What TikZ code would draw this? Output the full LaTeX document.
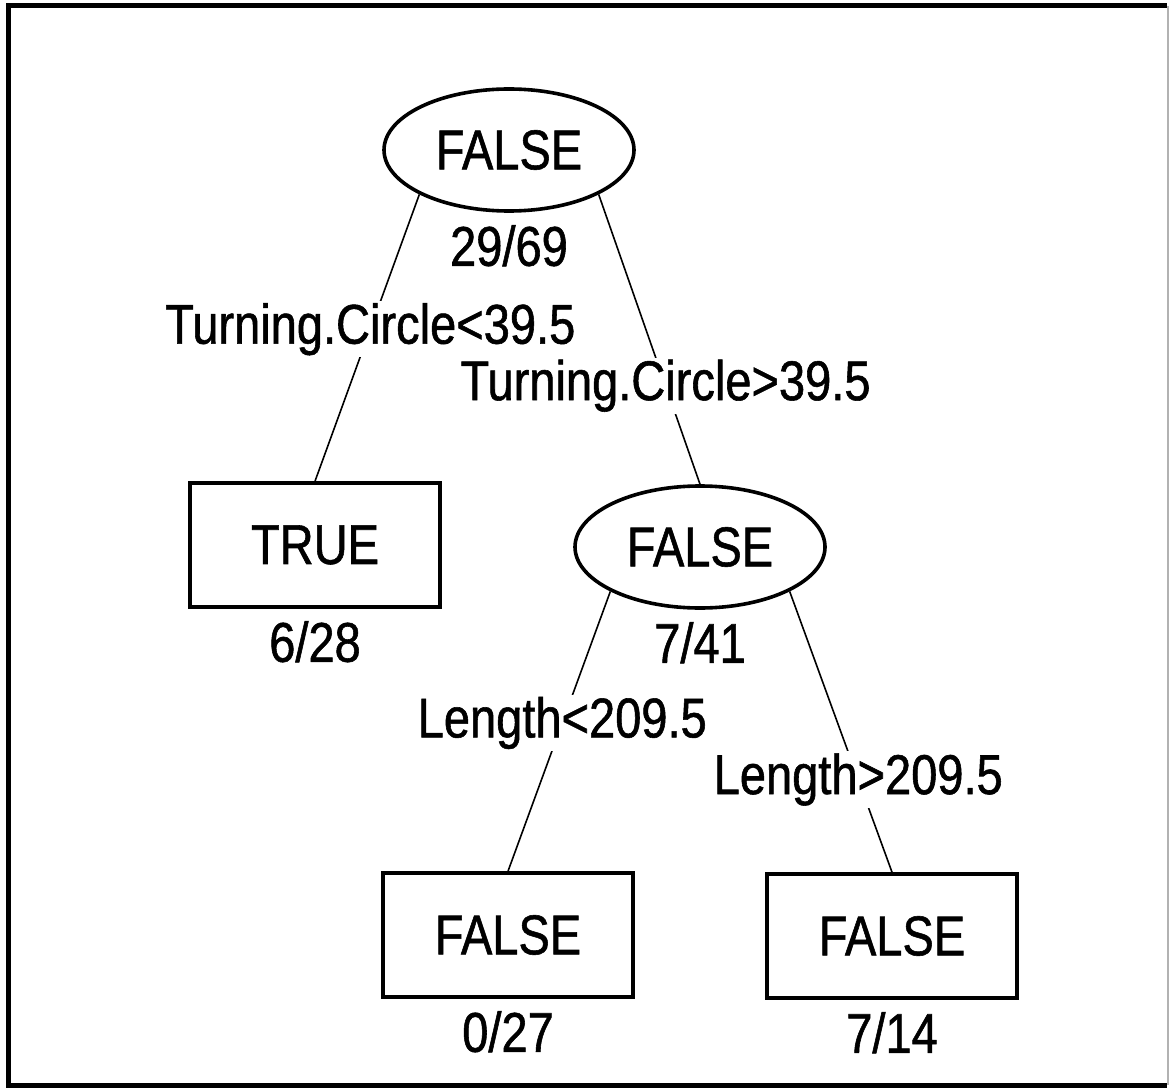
\documentclass[tikz,border=0pt]{standalone}
\usepackage{fontspec}
\setmainfont[FakeStretch=0.84,FakeBold=1]{Liberation Sans}
\usetikzlibrary{positioning,shapes.geometric}

\begin{document}
\begin{tikzpicture}[x=0.5pt,y=0.5pt,
    font=\fontsize{28}{32}\selectfont,
    split/.style={ellipse,draw,line width=1.8pt,minimum width=125pt,minimum height=61pt,inner sep=0pt},
    leaf/.style={rectangle,draw,line width=1.8pt,minimum width=125pt,minimum height=62pt,inner sep=0pt},
    count/.style={inner sep=0pt},
    rule/.style={fill=white,inner sep=1pt}]
    \useasboundingbox (0,0) rectangle (1171,1089);
    % frame, right edge only faint
    \draw[line width=2.5pt] (1167,1083) -- (8,1083) -- (8,4) -- (1167,4);
    \draw[gray!60,line width=0.6pt] (1168,1083) -- (1168,4);

    % splits and leaves
    \node[split] (root) at (509,939) {FALSE};
    \node[leaf] (tcLow) at (315,544) {TRUE};
    \node[split] (tcHigh) at (700,542) {FALSE};
    \node[leaf] (lenLow) at (508,154) {FALSE};
    \node[leaf] (lenHigh) at (892,153) {FALSE};

    % misclassified / total under each node
    \node[count,below=6pt of root] {29/69};
    \node[count,below=6pt of tcLow] {6/28};
    \node[count,below=6pt of tcHigh] {7/41};
    \node[count,below=6pt of lenLow] {0/27};
    \node[count,below=6pt of lenHigh] {7/14};

    % branches with their split rules
    \foreach \from/\side/\to/\where/\test in {
      root/south west/tcLow/0.47/Turning.Circle<39.5,
      root/south east/tcHigh/0.66/Turning.Circle>39.5,
      tcHigh/south west/lenLow/0.47/Length<209.5,
      tcHigh/south east/lenHigh/0.67/Length>209.5}
    {
      \draw[line width=0.8pt] (\from.\side) -- (\to.north) node[rule,pos=\where] {\test};
    }
\end{tikzpicture}
\end{document}
